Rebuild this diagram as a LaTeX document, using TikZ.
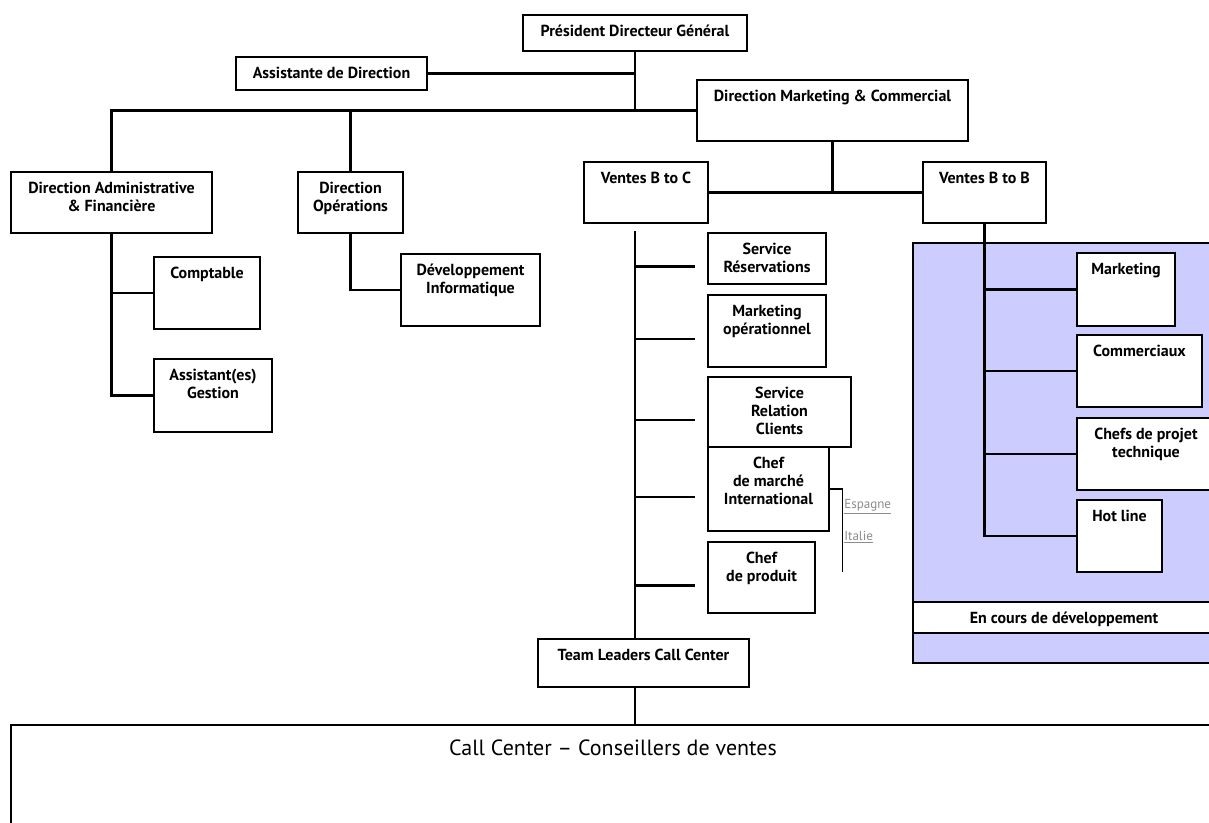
\documentclass[tikz,border=0pt]{standalone}
\usepackage{fontspec}
\setmainfont{PT Sans}
\usepackage{xcolor}
\usetikzlibrary{fit}
\definecolor{devblue}{HTML}{CCCCFF}
\definecolor{linkgray}{HTML}{8C8C8C}

\begin{document}
\begin{tikzpicture}[x=0.75pt, y=-0.75pt,
    box/.style={draw, line width=1.6pt, fill=white, inner sep=0pt},
    txt/.style={anchor=north, inner sep=0pt, yshift=-8pt, align=center, font=\bfseries\fontsize{12}{13.5}\selectfont},
    link/.style={anchor=west, inner sep=0pt, text=linkgray, font=\fontsize{9.8}{11}\selectfont},
    conn/.style={line width=1.8pt}]
    \useasboundingbox (0,0) rectangle (1209,822);

    % zone B to B
    \node[draw, line width=1pt, fill=devblue, inner sep=0pt, fit={(913,243) (1215,663)}] (zone) {};

    \node[box, fit={(523,15) (747,51)}, label={[txt]north:Président Directeur Général}] (pdg) {};
    \node[box, fit={(236,57) (427,90)}, label={[txt]north:Assistante de Direction}] (asst) {};
    \node[box, fit={(697,80) (968,141)}, label={[txt]north:Direction Marketing \& Commercial}] (dmc) {};

    \node[box, fit={(11,172) (212,233)}, label={[txt]north:{Direction Administrative\\\& Financière}}] (daf) {};
    \node[box, fit={(298,172) (403,233)}, label={[txt]north:{Direction\\Opérations}}] (dirops) {};
    \node[box, fit={(584,162) (708,223)}, label={[txt]north:Ventes B to C}] (btoc) {};
    \node[box, fit={(923,162) (1046,223)}, label={[txt]north:Ventes B to B}] (btob) {};

    \node[box, fit={(154,257) (260,329)}, label={[txt]north:Comptable}] (compta) {};
    \node[box, fit={(154,359) (272,432)}, label={[txt]north:{Assistant(es)\\Gestion}}] (agest) {};
    \node[box, fit={(401,254) (540,326)}, label={[txt]north:{Développement\\Informatique}}] (devinfo) {};

    \node[box, fit={(708,233) (826,284)}, label={[txt]north:{Service\\Réservations}}] (resa) {};
    \node[box, fit={(708,295) (826,367)}, label={[txt]north:{Marketing\\opérationnel}}] (mkop) {};
    \node[box, fit={(708,377) (851,447)}, label={[txt]north:{Service\\Relation\\Clients}}] (relcli) {};
    \node[box, fit={(708,447) (829,531)}, label={[txt]north:{Chef\\de marché\\International}}] (chefmi) {};
    \node[box, fit={(708,542) (815,613)}, label={[txt]north:{Chef\\de produit}}] (chefprod) {};
    \node[box, fit={(538,639) (749,687)}, label={[txt]north:Team Leaders Call Center}] (teamlead) {};

    \node[box, fit={(1077,253) (1175,326)}, label={[txt]north:Marketing}] (mkt) {};
    \node[box, fit={(1077,335) (1202,407)}, label={[txt]north:Commerciaux}] (comm) {};
    \node[box, fit={(1077,418) (1215,490)}, label={[txt]north:{Chefs de projet\\technique}}] (chefpt) {};
    \node[box, fit={(1077,500) (1162,572)}, label={[txt]north:Hot line}] (hotline) {};
    \node[box, line width=0.8pt, fit={(913,602) (1215,633)}, label={[txt]north:En cours de développement}] (encours) {};

    \node[box, fit={(11,725) (1215,830)}, label={[txt, yshift=-3.5pt, font=\fontsize{16.5}{18}\selectfont]north:Call Center -- Conseillers de ventes}] (callc) {};

    \node[link] (espagne) at (844,507) {\underline{Espagne}};
    \node[link] (italie) at (844,537) {\underline{Italie}};

    % direction
    \draw[conn] (pdg.south) -- (pdg.south |- dmc.west);
    \draw[conn] (asst.east) -- (asst.east -| pdg.south);
    \draw[conn] (daf.north) |- (dmc.west);
    \draw[conn] (dirops.north) -- (dirops.north |- dmc.west);
    \draw[conn] (daf.south) |- (agest.west);
    \draw[conn] (compta.west) -- (compta.west -| daf.south);
    \draw[conn] (dirops.south) |- (devinfo.west);
    \draw[conn] (dmc.south) -- (dmc.south |- btoc.east);
    \draw[conn] (btoc.east) -- (btob.west);

    % B to C
    \coordinate (trunk) at (635,231);
    \draw[conn] (trunk) -- (trunk |- teamlead.north);
    \foreach \n in {resa, mkop, relcli, chefmi, chefprod}
        \draw[conn] ([xshift=-9pt, yshift=-6pt]\n.west) -- ++(-61,0);
    \draw[conn, line width=1.2pt] (chefmi.east) -- ++(12.5,0) -- ++(0,83);
    \draw[conn] (trunk |- teamlead.south) -- (trunk |- callc.north);

    % B to B
    \draw[conn] (btob.south) |- (hotline.west);
    \foreach \n in {mkt, comm, chefpt}
        \draw[conn] (\n.west) -- (\n.west -| btob.south);
\end{tikzpicture}
\end{document}
